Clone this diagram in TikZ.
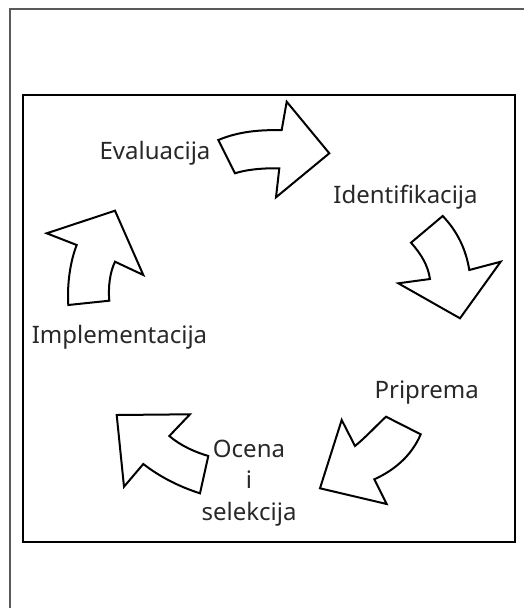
\documentclass[tikz,border=0pt]{standalone}
\usepackage{fontspec}
\setmainfont{Noto Sans}
\definecolor{labelgray}{RGB}{40,40,40}
\definecolor{framegray}{RGB}{90,90,90}
\begin{document}
\begin{tikzpicture}[x=1pt,y=-1pt,
  cyclearrow/.style={draw=black, fill=white, line width=2pt, line join=miter},
  lbl/.style={text=labelgray, font=\fontsize{24}{31.3}\selectfont, inner sep=0pt, anchor=base},
  panel/.style={draw=black, line width=2pt},
  pageframe/.style={draw=framegray, line width=1.6pt}]
\useasboundingbox (0,0) rectangle (524,608);
\clip (0,0) rectangle (524,608);
\fill[white] (0,0) rectangle (524,608);

% page frame and inner panel
\draw[pageframe] (10,9) rectangle (560,660);
\draw[panel] (22.7,95.3) rectangle (515,542);

% top arrow: Evaluacija -> Identifikacija
\draw[cyclearrow] (218.3,140) .. controls (240,131) and (260,130) .. (281.7,130)
  -- (286.7,101.7) -- (329.3,153.3) -- (276,197.3) -- (279.3,168.3)
  .. controls (260,168) and (245,170) .. (235,173.3) -- cycle;

% right arrow: Identifikacija -> Priprema
\draw[cyclearrow] (442.7,216) -- (411,242.7)
  .. controls (422,255) and (428,266) .. (430,279)
  -- (398.3,283.3) -- (460,318.3) -- (500.7,261.7) -- (469.3,270)
  .. controls (466,250) and (458,232) .. cycle;

% lower right arrow: Priprema -> Ocena i selekcija
\draw[cyclearrow] (386,416.7) -- (420.7,434.3)
  .. controls (412,455) and (395,470) .. (374.3,479.3)
  -- (386.7,504) -- (320,488.3) -- (341.7,420) -- (355,446)
  .. controls (366,437) and (377,425) .. cycle;

% lower left arrow: Ocena i selekcija -> Implementacija
\draw[cyclearrow] (116.7,415) -- (190,414.3) -- (169.3,436)
  .. controls (181,446) and (195,452) .. (208.3,456)
  -- (200,493.3)
  .. controls (180,487) and (160,477) .. (143.3,464)
  -- (124,486.7) -- cycle;

% left arrow: Implementacija -> Evaluacija
\draw[cyclearrow] (115,210.7) -- (46.7,233.3) -- (76.7,245)
  .. controls (70,262) and (67,285) .. (68.3,305)
  -- (109.3,300.7)
  .. controls (108,287) and (110,272) .. (115,261.7)
  -- (143.3,275) -- cycle;

% stage labels
\node[lbl] (evaluacija) at (155,159) {Evaluacija};
\node[lbl] (identifikacija) at (405.5,203.3) {Identifikacija};
\node[lbl] (priprema) at (426.7,398.3) {Priprema};
\node[lbl] (implementacija) at (119.5,343.3) {Implementacija};
\node[lbl, align=center] (ocena) at (249,520) {Ocena\\i\\selekcija};
\end{tikzpicture}
\end{document}
